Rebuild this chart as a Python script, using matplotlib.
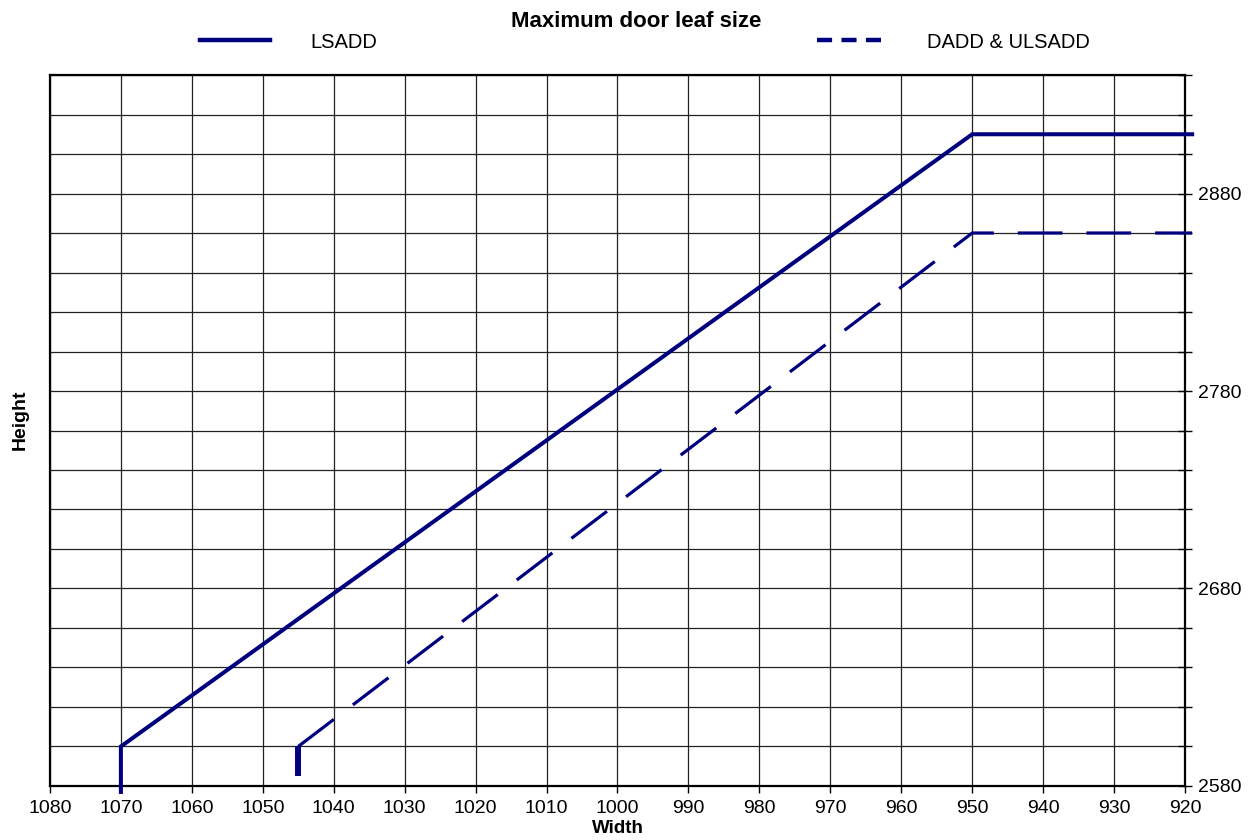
import matplotlib.pyplot as plt
from matplotlib.lines import Line2D
from matplotlib.ticker import MultipleLocator, FuncFormatter

plt.rcParams['font.family'] = ['Liberation Sans', 'DejaVu Sans']

# Datos
lsadd_w = [1070, 1070, 950, 919]
lsadd_h = [2577, 2600, 2910, 2910]

dadd_w = [1045, 950, 919]
dadd_h = [2600, 2860, 2860]

# tramo vertical grueso de DADD & ULSADD
dadd_stub_w = [1045, 1045]
dadd_stub_h = [2585, 2600]

navy = '#00007f'

fig = plt.figure(figsize=(12.58, 8.4), dpi=100)
ax = fig.add_axes([0.0397, 0.0643, 0.9023, 0.8464])

ax.plot(lsadd_w, lsadd_h, color=navy, lw=2.9, solid_joinstyle='miter', clip_on=False, zorder=3)
ax.plot(dadd_w, dadd_h, color=navy, lw=2.3, dashes=(14, 7.5), clip_on=False, zorder=3)
ax.plot(dadd_stub_w, dadd_stub_h, color=navy, lw=4.3, solid_capstyle='butt', zorder=3)

ax.set_xlim(1080, 920)
ax.set_ylim(2580, 2940)

ax.xaxis.set_major_locator(MultipleLocator(10))
ax.yaxis.set_major_locator(MultipleLocator(20))
ax.yaxis.set_major_formatter(FuncFormatter(
    lambda v, p: f'{int(round(v))}' if round(v - 2580) % 100 == 0 else ''))
ax.yaxis.tick_right()

ax.grid(True, color='#222222', lw=0.9)
ax.set_axisbelow(True)
for s in ax.spines.values():
    s.set_linewidth(1.6)
    s.set_color('black')

ax.tick_params(axis='x', direction='out', length=5, width=1, labelsize=14, pad=5)
ax.tick_params(axis='y', direction='inout', length=10, width=1, labelsize=14, pad=4)

ax.set_xlabel('Width', fontsize=13.5, fontweight='bold', labelpad=2.5)
fig.text(0.016, 0.5, 'Height', rotation=90, fontsize=14, fontweight='bold',
         ha='center', va='center')

fig.text(0.506, 0.974, 'Maximum door leaf size', fontsize=16, fontweight='bold',
         ha='center', va='center')

handles = [Line2D([], [], color=navy, lw=3.2),
           Line2D([], [], color=navy, lw=3.2, dashes=(3.4, 2.1))]
fig.legend(handles, ['LSADD', 'DADD & ULSADD'], loc='center',
           bbox_to_anchor=(0.5127, 0.95), ncol=2, frameon=False, fontsize=14.5,
           handlelength=3.45, handletextpad=2.0, columnspacing=21.85)

fig.savefig('out.png', dpi=100)
